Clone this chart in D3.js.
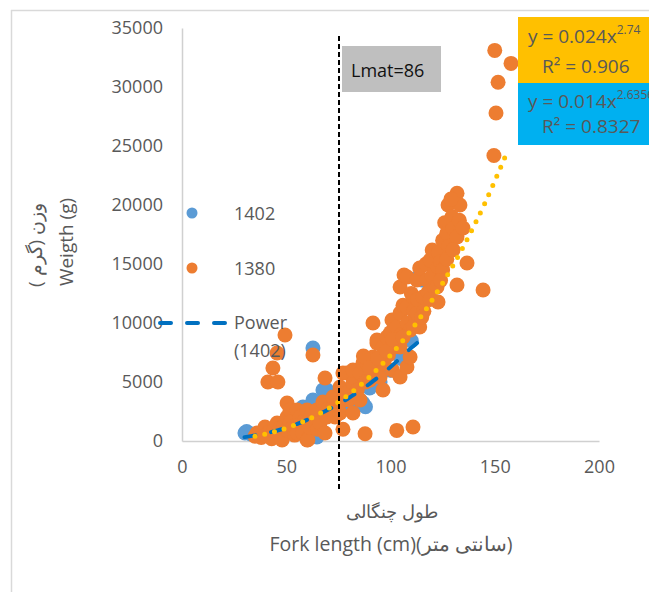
<!DOCTYPE html>
<html><head><meta charset="utf-8">
<script src="https://cdn.jsdelivr.net/npm/d3@7"></script>
<style>
html,body{margin:0;padding:0;background:#fff;}
svg text{font-family:"Open Sans","Liberation Sans",sans-serif;}
</style></head>
<body><svg id="c" width="649" height="592"></svg>
<script>
// ---- data ----
const series1380 = [
[35,400],[36,680],[38,300],[39.8,1190],[40,500],[42,760],[43,200],[44,900],[45.6,1525],[46,600],[47,1100],[48,85],[49,1300],[50.4,930],[50.4,2030],[50.4,3220],[51.8,2630],[52,1600],[53.2,1190],[54,500],[55.2,680],[55.2,2630],[56.6,2030],[57,1500],[58,680],[59,1800],[60,85],[60,2630],[60.4,100],[61,1200],[62,2200],[63,1700],[64.7,2630],[65,1000],[66.2,1525],[67.6,3300],[68.6,680],[69.5,2030],[70,2700],[72.4,2880],[72.4,3730],[73.4,2030],[74,3000],[75.8,4580],[75.8,2370],[76,3300],
[49.4,8980],[45.6,7460],[43.6,6190],[41.2,5000],[46,5000],[62.8,7290],[68.6,5340],
[77.2,1000],[87.8,620],[103,900],[110.8,1190],
[77.2,5760],[79,4070],[79,5760],[80,3500],[82,4920],[82,6020],[82,2370],[84,4300],[85.4,5760],[85.4,3470],[86.8,6610],[88,5000],[88.7,6610],[90.2,5170],[91.6,7120],[91.6,10000],[92,6000],[93.5,8300],[93.5,8560],[95,5420],[96.4,4320],[96.4,7970],[97,6500],[98.3,8810],[99,7300],[100,9200],[100.7,10250],[101,6000],[102,8000],[103,9660],[104.6,5420],[104.6,7970],[104.6,10850],[104.6,13050],[105,9000],[106,11500],[106.5,14070],[107.9,6270],[107.9,11360],[108,13900],[108,10000],[109.4,7120],[109.4,9400],[110,12500],[110.8,12200],[111,11000],[112,10300],[112.7,10850],[112.7,13640],[113,12000],[114,9660],[114,14660],[115.6,12200],[116,11000],[117,15000],[117.5,13640],[118,12600],[119,15340],[120,16190],[120,14000],[121,13000],[122.3,13050],[122.8,11780],[122.8,14750],[123,16000],[124,15200],[125,17000],[125,14500],[126,18500],[127,17600],[127.6,20000],[128,16500],[129.5,19000],[130,18000],[131.9,17300],[131.9,13220],[131.9,21000],[133,18700],[133.3,20000],[134.8,18050],[136.7,15080],[144.4,12800],[149.6,24200],[150,33100],[150.6,27800],[151.6,30400],[157.8,32000],
[87,7200],[90,6200],[94,7000],[98,7600],[101,8600],[106,8800],[111,9700],[115,10500],[119,12000],[124,13600],[127,15400],[130,16200],[129,20500]
];
const series1402 = [
[30.2,680],[31,800],[33,600],[36,500],[40,700],[44,900],[48,1200],[52,1500],[55,1700],[58,2880],[62.8,3470],[64.7,340],[62.8,7880],[65,2000],[67.6,4320],[69.5,4320],[70,3000],[72,2600],[75,3200],[78,3800],[80,3000],[82,3300],[85.4,3470],[86.8,3220],[88,2900],[90,4500],[95,5000],[100,6000],[105,7000],[110,8500],[112.7,13800],[115,13640]
];
// trend lines, points
const trend1402 = [[30,330],[40,640],[50,1120],[60,1800],[70,2650],[80,3650],[90,4850],[100,6270],[110,7900],[115.6,8730]];
const trend1380 = [[35,410],[45,810],[55,1410],[65,2230],[75,3300],[85,4650],[95,6320],[105,8300],[115,10640],[125,13370],[135,16490],[145,20050],[155,24100]];
const xTicks = [0,50,100,150,200];
const yTicks = [0,5000,10000,15000,20000,25000,30000,35000];
const lmatX = [75.3];
const lmatLabel = "Lmat=86";
const eq1380 = ["y = 0.024x","2.74","R² = 0.906"];
const eq1402 = ["y = 0.014x","2.6356","R² = 0.8327"];

// ---- drawing ----
const svg = d3.select("#c");
const x = d3.scaleLinear().domain([0,200]).range([182,599]);
const y = d3.scaleLinear().domain([0,35000]).range([441,28]);
const grey = "#595959";

// outer frame
svg.append("line").attr("x1",11).attr("x2",649).attr("y1",10.5).attr("y2",10.5).attr("stroke","#d9d9d9").attr("stroke-width",1.5);
svg.append("line").attr("x1",11.5).attr("x2",11.5).attr("y1",10).attr("y2",592).attr("stroke","#d9d9d9").attr("stroke-width",1.5);

// axes
const ax = svg.append("g").attr("transform","translate(0,441)")
  .call(d3.axisBottom(x).tickValues(xTicks).tickSize(0).tickPadding(19));
const ay = svg.append("g").attr("transform","translate(182,0)")
  .call(d3.axisLeft(y).tickValues(yTicks).tickSize(0).tickPadding(19).tickFormat(d3.format("d")));
[ax,ay].forEach(g=>{
  g.select(".domain").attr("stroke","#d0d0d0").attr("stroke-width",1.5);
  g.selectAll("text").attr("fill",grey).style("font-size","18px").style("font-family","'Open Sans',sans-serif");
});

// scatter: 1402 first, 1380 on top
svg.append("g").selectAll("circle").data(series1402).join("circle")
  .attr("cx",d=>x(d[0])).attr("cy",d=>y(d[1])).attr("r",7.5).attr("fill","#5B9BD5");
svg.append("g").selectAll("circle").data(series1380).join("circle")
  .attr("cx",d=>x(d[0])).attr("cy",d=>y(d[1])).attr("r",7.5).attr("fill","#ED7D31");

// trend lines
const line = d3.line().x(d=>x(d[0])).y(d=>y(d[1])).curve(d3.curveMonotoneX);
svg.append("path").datum(trend1402).attr("d",line).attr("fill","none")
  .attr("stroke","#0070C0").attr("stroke-width",4).attr("stroke-dasharray","11 16").attr("stroke-linecap","round");
svg.append("path").datum(trend1380).attr("d",line).attr("fill","none")
  .attr("stroke","#FFC000").attr("stroke-width",5).attr("stroke-dasharray","0 10").attr("stroke-linecap","round");

// Lmat line and label
svg.selectAll(".lmat").data(lmatX).join("line").attr("class","lmat")
  .attr("x1",d=>x(d)).attr("x2",d=>x(d)).attr("y1",36).attr("y2",490)
  .attr("stroke","#000").attr("stroke-width",2).attr("stroke-dasharray","5 3");
svg.append("rect").attr("x",342).attr("y",46).attr("width",99).attr("height",46).attr("fill","#BFBFBF");
svg.append("text").attr("x",351).attr("y",77).attr("fill","#111").style("font-size","18px").text(lmatLabel);

// equation boxes
svg.append("rect").attr("x",518).attr("y",17).attr("width",140).attr("height",66).attr("fill","#FFC000");
svg.append("rect").attr("x",518).attr("y",83).attr("width",140).attr("height",62).attr("fill","#00B0F0");
function eq(e, y1, y2){
  const t = svg.append("text").attr("x",528).attr("y",y1).attr("fill",grey).style("font-size","19px");
  t.append("tspan").text(e[0]);
  t.append("tspan").attr("dy",-9).style("font-size","12px").text(e[1]);
  svg.append("text").attr("x",542).attr("y",y2).attr("fill",grey).style("font-size","19px").text(e[2]);
}
eq(eq1380,43,73);
eq(eq1402,108,133);

// axis titles
svg.append("text").attr("transform","translate(35,245) rotate(-90)").attr("text-anchor","middle")
  .attr("dominant-baseline","central").attr("fill",grey).style("font-size","19px").text("وزن (گرم )");
svg.append("text").attr("transform","translate(66,242) rotate(-90)").attr("text-anchor","middle")
  .attr("dominant-baseline","central").attr("fill",grey).style("font-size","19px").text("Weigth (g)");
svg.append("text").attr("x",392).attr("y",511).attr("text-anchor","middle").attr("dominant-baseline","central")
  .attr("fill",grey).style("font-size","18px").text("طول چنگالی");
svg.append("text").attr("x",391).attr("y",543).attr("text-anchor","middle").attr("dominant-baseline","central")
  .attr("fill",grey).style("font-size","19.5px").text("Fork length (cm)(سانتی متر)");

// legend
const lg = svg.append("g");
lg.append("circle").attr("cx",192).attr("cy",213).attr("r",5.5).attr("fill","#5B9BD5");
lg.append("circle").attr("cx",192).attr("cy",268).attr("r",5.5).attr("fill","#ED7D31");
lg.append("line").attr("x1",160).attr("x2",225).attr("y1",323).attr("y2",323)
  .attr("stroke","#0070C0").attr("stroke-width",4).attr("stroke-dasharray","11 16").attr("stroke-linecap","round");
[["1402",213],["1380",268],["Power",322],["(1402)",350]].forEach(([s,yy])=>{
  lg.append("text").attr("x",234).attr("y",yy).attr("dominant-baseline","central")
    .attr("fill",grey).style("font-size","18px").text(s);
});
</script></body></html>
